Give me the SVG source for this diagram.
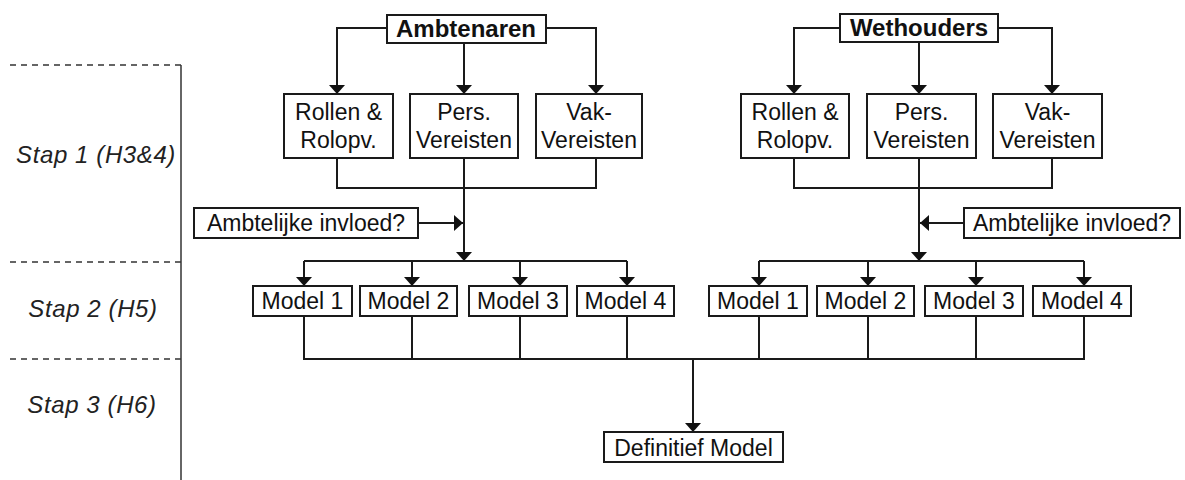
<svg xmlns="http://www.w3.org/2000/svg" width="1185" height="480" viewBox="0 0 1185 480">
  <style>
    .box { fill: #ffffff; stroke: #1a1a1a; stroke-width: 2; }
    .lbl { font-family: "Liberation Sans", Arial, sans-serif; font-size: 23px; fill: #111; text-anchor: middle; }
    .head { font-weight: bold; font-size: 24px; }
    .stage { font-family: "Liberation Sans", Arial, sans-serif; font-size: 24px; font-style: italic; fill: #222; text-anchor: middle; letter-spacing: 0.6px; }
    .wire { fill: none; stroke: #1a1a1a; stroke-width: 2; }
    .arrow { fill: none; stroke: #1a1a1a; stroke-width: 2; marker-end: url(#tip); }
    .dash { stroke: #333; stroke-width: 1.5; stroke-dasharray: 6 5; }
  </style>
  <defs>
    <marker id="tip" viewBox="0 0 9 16" refX="9" refY="8" markerWidth="9" markerHeight="16" markerUnits="userSpaceOnUse" orient="auto">
      <path d="M0,0 L9,8 L0,16 z" fill="#111"/>
    </marker>
  </defs>
  <rect width="1185" height="480" fill="#ffffff"/>

  <!-- stage ruler on the left -->
  <g id="stages">
    <line class="dash" x1="10" y1="65" x2="181" y2="65"/>
    <line class="dash" x1="10" y1="262" x2="181" y2="262"/>
    <line class="dash" x1="10" y1="359" x2="181" y2="359"/>
    <line x1="181" y1="65" x2="181" y2="480" stroke="#333" stroke-width="1.5"/>
    <text class="stage" x="96" y="163">Stap 1 (H3&amp;4)</text>
    <text class="stage" x="93" y="317">Stap 2 (H5)</text>
    <text class="stage" x="92" y="413">Stap 3 (H6)</text>
  </g>

  <!-- connectors -->
  <g id="connectors">
    <!-- Ambtenaren fan-out -->
    <path class="arrow" d="M387,28 H337 V94"/>
    <path class="arrow" d="M546,28 H596 V94"/>
    <path class="arrow" d="M464,43 V94"/>
    <!-- Wethouders fan-out -->
    <path class="arrow" d="M840,28 H794 V94"/>
    <path class="arrow" d="M998,28 H1052 V94"/>
    <path class="arrow" d="M919,42 V94"/>
    <!-- merge of the three requirement boxes -->
    <path class="wire" d="M337,158 V188 H596 V158"/>
    <path class="arrow" d="M464,158 V261"/>
    <path class="wire" d="M794,158 V188 H1052 V158"/>
    <path class="arrow" d="M919,158 V261"/>
    <!-- ambtelijke invloed inputs -->
    <path class="arrow" d="M418,223 H463"/>
    <path class="arrow" d="M964,223 H920"/>
    <!-- distribution to the models -->
    <path class="wire" d="M304,261 H627"/>
    <path class="arrow" d="M304,261 V286"/>
    <path class="arrow" d="M412,261 V286"/>
    <path class="arrow" d="M520,261 V286"/>
    <path class="arrow" d="M627,261 V286"/>
    <path class="wire" d="M759,261 H1084"/>
    <path class="arrow" d="M759,261 V286"/>
    <path class="arrow" d="M868,261 V286"/>
    <path class="arrow" d="M976,261 V286"/>
    <path class="arrow" d="M1084,261 V286"/>
    <!-- collection into the final model -->
    <path class="wire" d="M304,316 V359 H1084 V316"/>
    <path class="wire" d="M412,316 V359 M520,316 V359 M627,316 V359 M759,316 V359 M868,316 V359 M976,316 V359"/>
    <path class="arrow" d="M693,359 V432"/>
  </g>

  <!-- top-level actors -->
  <g id="ambtenaren">
    <rect class="box" x="387" y="15" width="159" height="28"/>
    <text class="lbl head" x="466" y="37">Ambtenaren</text>
  </g>
  <g id="wethouders">
    <rect class="box" x="840" y="14" width="158" height="28"/>
    <text class="lbl head" x="919" y="36">Wethouders</text>
  </g>

  <!-- requirement boxes, left -->
  <g id="a-rollen">
    <rect class="box" x="284" y="94" width="109" height="64"/>
    <text class="lbl" x="338.5" y="120">Rollen &amp;</text>
    <text class="lbl" x="338.5" y="148">Rolopv.</text>
  </g>
  <g id="a-pers">
    <rect class="box" x="410" y="94" width="108" height="64"/>
    <text class="lbl" x="464" y="120">Pers.</text>
    <text class="lbl" x="464" y="148">Vereisten</text>
  </g>
  <g id="a-vak">
    <rect class="box" x="536" y="94" width="106" height="64"/>
    <text class="lbl" x="589" y="120">Vak-</text>
    <text class="lbl" x="589" y="148">Vereisten</text>
  </g>

  <!-- requirement boxes, right -->
  <g id="w-rollen">
    <rect class="box" x="741" y="94" width="108" height="64"/>
    <text class="lbl" x="795" y="120">Rollen &amp;</text>
    <text class="lbl" x="795" y="148">Rolopv.</text>
  </g>
  <g id="w-pers">
    <rect class="box" x="867" y="94" width="109" height="64"/>
    <text class="lbl" x="921.5" y="120">Pers.</text>
    <text class="lbl" x="921.5" y="148">Vereisten</text>
  </g>
  <g id="w-vak">
    <rect class="box" x="993" y="94" width="109" height="64"/>
    <text class="lbl" x="1047.5" y="120">Vak-</text>
    <text class="lbl" x="1047.5" y="148">Vereisten</text>
  </g>

  <!-- influence inputs -->
  <g id="a-invloed">
    <rect class="box" x="194" y="208" width="224" height="30"/>
    <text class="lbl" x="306" y="231">Ambtelijke invloed?</text>
  </g>
  <g id="w-invloed">
    <rect class="box" x="964" y="208" width="216" height="30"/>
    <text class="lbl" x="1072" y="231">Ambtelijke invloed?</text>
  </g>

  <!-- models, left -->
  <g id="a-model1"><rect class="box" x="253" y="286" width="99" height="30"/><text class="lbl" x="302.5" y="309">Model 1</text></g>
  <g id="a-model2"><rect class="box" x="360" y="286" width="97" height="30"/><text class="lbl" x="408.5" y="309">Model 2</text></g>
  <g id="a-model3"><rect class="box" x="469" y="286" width="98" height="30"/><text class="lbl" x="518" y="309">Model 3</text></g>
  <g id="a-model4"><rect class="box" x="577" y="286" width="97" height="30"/><text class="lbl" x="625.5" y="309">Model 4</text></g>

  <!-- models, right -->
  <g id="w-model1"><rect class="box" x="709" y="286" width="98" height="30"/><text class="lbl" x="758" y="309">Model 1</text></g>
  <g id="w-model2"><rect class="box" x="817" y="286" width="97" height="30"/><text class="lbl" x="865.5" y="309">Model 2</text></g>
  <g id="w-model3"><rect class="box" x="925" y="286" width="98" height="30"/><text class="lbl" x="974" y="309">Model 3</text></g>
  <g id="w-model4"><rect class="box" x="1033" y="286" width="98" height="30"/><text class="lbl" x="1082" y="309">Model 4</text></g>

  <!-- final result -->
  <g id="definitief">
    <rect class="box" x="604" y="432" width="179" height="30"/>
    <text class="lbl" x="693.5" y="456">Definitief Model</text>
  </g>
</svg>
